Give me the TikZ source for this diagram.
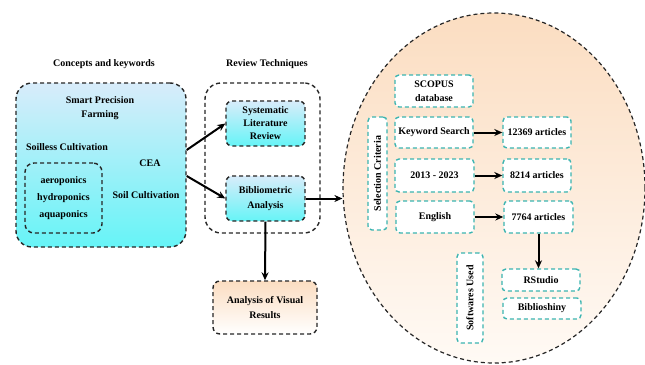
\documentclass[tikz,border=0pt]{standalone}
\usepackage{fontspec}
\setmainfont{Liberation Serif}
\usetikzlibrary{arrows.meta,shapes.geometric}
\definecolor{cyanb}{HTML}{66F4F7}
\definecolor{lightb}{HTML}{D8ECFA}
\definecolor{peach}{HTML}{FBDDC1}
\definecolor{peachl}{HTML}{FFFAF5}
\definecolor{tealb}{HTML}{3BB4B0}
\begin{document}
\begin{tikzpicture}[x=1pt,y=-1pt,
  font=\fontsize{10}{12}\selectfont\bfseries,
  blk/.style={draw=black!85,line width=1.4pt,dash pattern=on 4pt off 3pt,rounded corners=10pt,inner sep=0pt,align=center},
  bluef/.style={top color=lightb,bottom color=cyanb},
  tbox/.style={draw=tealb,line width=1.4pt,dash pattern=on 4pt off 3pt,rounded corners=4pt,fill=white,inner sep=0pt,align=center},
  arr/.style={-{Stealth[length=8pt,width=7pt]},line width=2pt},
  lbl/.style={inner sep=0pt,align=center}]
\clip (0,0) rectangle (645,364);
\fill[white] (0,0) rectangle (645,364);
% titles
\node[lbl] (t1) at (104,64) {Concepts and keywords};
\node[lbl] (t2) at (267,64) {Review Techniques};
% left box
\node[blk,bluef,minimum width=170pt,minimum height=164pt,rounded corners=16pt] (lb) at (101,165) {};
\node[lbl] (spf) at (100,108) {Smart Precision\\[2pt]Farming};
\node[lbl] (soilless) at (67,147) {Soilless Cultivation};
\node[blk,minimum width=77pt,minimum height=70pt,rounded corners=9pt] (inner) at (63.5,198) {aeroponics\\[5pt]hydroponics\\[5pt]aquaponics};
\node[lbl] (cea) at (150,163) {CEA};
\node[lbl] (soil) at (146,195) {Soil Cultivation};
% review techniques
\node[blk,fill=white,minimum width=115pt,minimum height=150pt,rounded corners=16pt] (rev) at (262.5,158) {};
\node[blk,bluef,minimum width=79pt,minimum height=45pt,rounded corners=6pt] (slr) at (265.5,123.5) {Systematic\\[1pt]Literature\\[1pt]Review};
\node[blk,bluef,minimum width=79pt,minimum height=45pt,rounded corners=6pt] (bib) at (265.5,198.5) {Bibliometric\\[3pt]Analysis};
\node[blk,top color=peach,bottom color=white,minimum width=104pt,minimum height=53pt,rounded corners=7pt] (ana) at (265,307.5) {Analysis of Visual\\[3pt]Results};
% ellipse
\node[ellipse,draw=black!85,line width=1.2pt,dash pattern=on 4pt off 3pt,top color=peach,bottom color=peachl,minimum width=302pt,minimum height=350pt,inner sep=0pt] (ell) at (494,188) {};
% inner boxes
\node[tbox,minimum width=78pt,minimum height=32pt] (scopus) at (434,91) {SCOPUS\\[2pt]database};
\node[tbox,minimum width=78pt,minimum height=31pt] (kw) at (434,132.5) {Keyword Search};
\node[tbox,minimum width=68pt,minimum height=31pt] (a1) at (537,132.5) {12369 articles};
\node[tbox,minimum width=79pt,minimum height=33pt] (yr) at (434.5,175.5) {2013 - 2023};
\node[tbox,minimum width=68pt,minimum height=33pt] (a2) at (537,175.5) {8214 articles};
\node[tbox,minimum width=78pt,minimum height=32pt] (en) at (435,217) {English};
\node[tbox,minimum width=69pt,minimum height=32pt] (a3) at (538.5,217) {7764 articles};
\node[tbox,minimum width=19pt,minimum height=113pt] (sel) at (377.5,173.5) {};
\node[lbl,rotate=90] (selt) at (sel.center) {Selection Criteria};
\node[tbox,minimum width=78pt,minimum height=22pt] (rs) at (541,280) {RStudio};
\node[tbox,minimum width=78pt,minimum height=21pt] (bs) at (542,308.5) {Biblioshiny};
\node[tbox,minimum width=26pt,minimum height=90pt] (sw) at (470,298) {};
\node[lbl,rotate=90] (swt) at (sw.center) {Softwares Used};
% arrows
\draw[arr] ([yshift=15pt]lb.east) -- (slr.west);
\draw[arr] ([yshift=-11pt]lb.east) -- (bib.west);
\draw[arr] (bib.east) -- (bib.east -| ell.west);
\draw[arr] (bib.south) -- (ana.north);
\draw[arr] (kw.east) -- (a1.west);
\draw[arr] (yr.east) -- (a2.west);
\draw[arr] (en.east) -- (a3.west);
\draw[arr] (a3.south) -- (a3.south |- rs.north);
\end{tikzpicture}
\end{document}
